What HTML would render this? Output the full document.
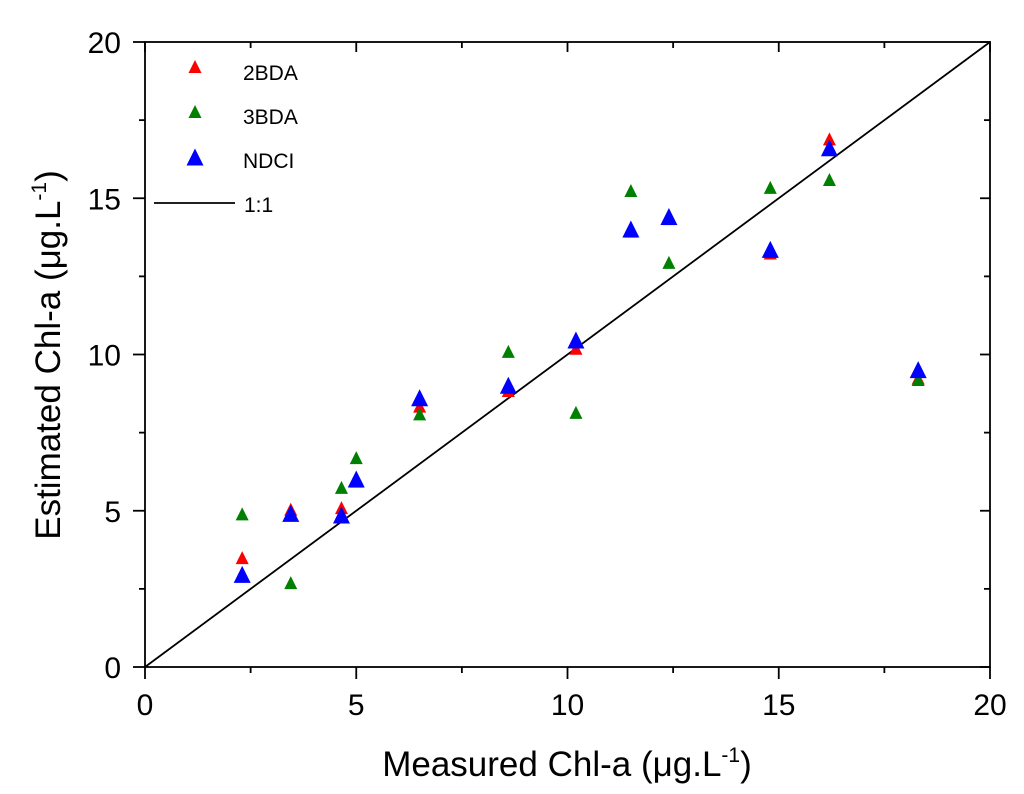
<!DOCTYPE html>
<html><head><meta charset="utf-8"><style>
body{margin:0;background:#fff}
svg{display:block;font-family:"Liberation Sans",Arial,sans-serif}
</style></head><body>
<svg id="chart" width="1024" height="794"></svg>
<script>
const xVals=[2.3,3.45,4.65,5.0,6.5,8.6,10.2,11.5,12.4,14.8,16.2,18.3];
const y2BDA=[3.45,5.0,5.05,5.9,8.3,8.8,10.15,13.9,14.3,13.2,16.85,9.2];
const y3BDA=[4.85,2.65,5.7,6.65,8.05,10.05,8.1,15.2,12.9,15.3,15.55,9.15];
const yNDCI=[2.9,4.85,4.8,5.95,8.55,8.95,10.4,13.95,14.35,13.3,16.55,9.45];
const ticks=[0,5,10,15,20];
const minorTicks=[2.5,7.5,12.5,17.5];
const tickLabels=["0","5","10","15","20"];
const L=145,R=990,T=42,B=667;
const sx=v=>L+(v/20)*(R-L), sy=v=>B-(v/20)*(B-T);
const svg=document.getElementById('chart');
const NS='http://www.w3.org/2000/svg';
function mk(tag,a,txt){const e=document.createElementNS(NS,tag);for(const k in a)e.setAttribute(k,a[k]);if(txt!=null)e.textContent=txt;svg.appendChild(e);return e;}
let e=mk('rect',{x:L,y:T,width:R-L,height:B-T,fill:'none',stroke:'#000','stroke-width':1.8});


ticks.forEach((t,i)=>{
  const x=sx(t),y=sy(t);
  mk('line',{x1:x,y1:B,x2:x,y2:B+12,stroke:'#000','stroke-width':1.8});
  mk('line',{x1:x,y1:T,x2:x,y2:T+10,stroke:'#000','stroke-width':1.8});
  mk('line',{x1:L,y1:y,x2:L-12,y2:y,stroke:'#000','stroke-width':1.8});
  mk('line',{x1:R,y1:y,x2:R-10,y2:y,stroke:'#000','stroke-width':1.8});
  e=mk('text',{x:x,y:B+48,'text-anchor':'middle','font-size':30},tickLabels[i]);
  
  
  e=mk('text',{x:L-24,y:y+11,'text-anchor':'end','font-size':30},tickLabels[i]);
  
  
});
minorTicks.forEach(t=>{
  const x=sx(t),y=sy(t);
  mk('line',{x1:x,y1:B,x2:x,y2:B+6,stroke:'#000','stroke-width':1.8});
  mk('line',{x1:x,y1:T,x2:x,y2:T+6,stroke:'#000','stroke-width':1.8});
  mk('line',{x1:L,y1:y,x2:L-6,y2:y,stroke:'#000','stroke-width':1.8});
  mk('line',{x1:R,y1:y,x2:R-6,y2:y,stroke:'#000','stroke-width':1.8});
});
e=mk('line',{x1:sx(0),y1:sy(0),x2:sx(20),y2:sy(20),stroke:'#000','stroke-width':1.8});


function tri(cx,cy,s,c){return mk('polygon',{points:`${cx},${cy-s*0.62} ${cx-s/2},${cy+s*0.38} ${cx+s/2},${cy+s*0.38}`,fill:c});}
xVals.forEach((x,i)=>{e=tri(sx(x),sy(y2BDA[i]),13,'#ff0000');});
xVals.forEach((x,i)=>{e=tri(sx(x),sy(y3BDA[i]),13,'#008000');});
xVals.forEach((x,i)=>{e=tri(sx(x),sy(yNDCI[i]),17,'#0000ff');});
// legend
e=tri(195,68,13,'#ff0000');
e=mk('text',{x:243,y:80,'font-size':21},'2BDA');
e=tri(195,113,13,'#008000');
e=mk('text',{x:243,y:124,'font-size':21},'3BDA');
e=tri(195,159,17,'#0000ff');
e=mk('text',{x:243,y:168,'font-size':21},'NDCI');
e=mk('line',{x1:154,y1:203,x2:235,y2:203,stroke:'#000','stroke-width':1.8});
e=mk('text',{x:244,y:212,'font-size':21},'1:1');
// axis titles
e=mk('text',{x:567,y:776,'text-anchor':'middle','font-size':35});
e.innerHTML='Measured Chl-a (μg.L<tspan dy="-14" font-size="21">-1</tspan><tspan dy="14">)</tspan>';

e=mk('text',{x:0,y:0,'text-anchor':'middle','font-size':35,transform:'translate(60,355) rotate(-90)'});
e.innerHTML='Estimated Chl-a (μg.L<tspan dy="-14" font-size="21">-1</tspan><tspan dy="14">)</tspan>';

</script>
</body></html>
